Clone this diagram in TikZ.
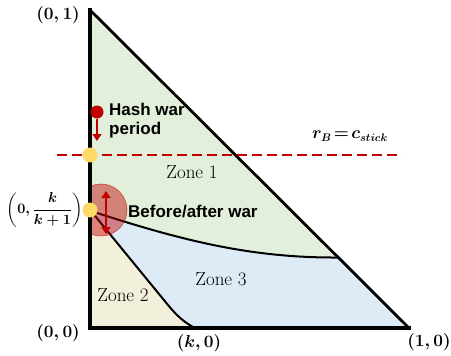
\documentclass[tikz,border=0pt]{standalone}
\usepackage{amsmath}
\usepackage{fontspec}
\newfontfamily\labelsans{Liberation Sans}
\usetikzlibrary{arrows.meta}
\definecolor{zoneA}{RGB}{226,239,218}
\definecolor{zoneB}{RGB}{242,239,218}
\definecolor{zoneC}{RGB}{221,235,247}
\definecolor{darkred}{RGB}{192,0,0}
\definecolor{dotyellow}{RGB}{255,217,102}
\tikzset{
  coordlabel/.style={font=\fontsize{16}{18}\selectfont, inner sep=0pt},
  fraclabel/.style={font=\fontsize{14.5}{17}\selectfont, inner sep=0pt},
  zonelabel/.style={font=\fontsize{19}{21}\selectfont, inner sep=0pt},
  sanslabel/.style={font=\labelsans\bfseries\fontsize{17}{19}\selectfont, inner sep=0pt, align=left},
  yellowdot/.style={circle, fill=dotyellow, minimum size=15pt, inner sep=0pt},
  boundary/.style={line width=2pt, black},
  axisline/.style={line width=3.2pt, black},
  redarrow/.style={darkred, line width=2.4pt, -{Triangle[length=7pt,width=9pt]}},
}
\begin{document}
\begin{tikzpicture}[x=1pt,y=-1pt]
\useasboundingbox (0,0) rectangle (451,356);
% key points
\coordinate (A) at (90,10);
\coordinate (O) at (90,328);
\coordinate (B) at (409,328);
\coordinate (P) at (91,211);
\coordinate (H) at (337.5,257.5);
\coordinate (K) at (195,328);
\coordinate (Kb) at (168,305);
% fills
\fill[zoneA] (A) -- (B) -- (O) -- cycle;
\fill[zoneC] (P) .. controls (180,240) and (250,258) .. (H) -- (B) -- (O) -- cycle;
\fill[zoneB] (P) -- (Kb) .. controls (177,316) and (185,323) .. (K) -- (O) -- cycle;
% zone boundaries
\draw[boundary] (P) .. controls (180,240) and (250,258) .. (H);
\draw[boundary] (P) -- (Kb) .. controls (177,316) and (185,323) .. (K);
% red highlight circle
\begin{scope}
\clip (90,150) rectangle (160,260);
\fill[darkred, fill opacity=0.45] (101,210) circle (26);
\draw[darkred, draw opacity=0.6, line width=0.6pt] (101,210) circle (26);
\end{scope}
% triangle outline
\draw[boundary, line width=2.8pt, line join=miter] (A) -- (B);
\draw[axisline, line cap=rect] (A) -- (O) -- (B);
% dashed threshold line
\coordinate (DL) at (57,155);
\coordinate (DR) at (402,155);
\draw[darkred, line width=2.8pt, dash pattern=on 10pt off 5pt] (DL) -- (DR);
% yellow dots
\node[yellowdot] (Y1) at (90,155) {};
\node[yellowdot] (Y2) at (90,210) {};
% hash war marker
\node[circle, fill=darkred, minimum size=13pt, inner sep=0pt] (HW) at (97,112) {};
\coordinate (HWend) at (97,141);
\draw[redarrow] (HW.south) -- (HWend);
\node[sanslabel, anchor=west] (HWtext) at (109,121) {Hash war\\period};
% before/after double arrow
\coordinate (BAtop) at (106,191);
\coordinate (BAbot) at (106,234);
\draw[darkred, line width=2.4pt, {Triangle[length=7pt,width=9pt]}-{Triangle[length=7pt,width=9pt]}] (BAtop) -- (BAbot);
\node[sanslabel, anchor=west] (BAtext) at (128,212) {Before/after war};
% zone labels
\node[zonelabel] (Z1) at (192,172) {Zone 1};
\node[zonelabel] (Z2) at (123,295) {Zone 2};
\node[zonelabel] (Z3) at (221,279) {Zone 3};
% coordinate labels
\node[coordlabel, anchor=east] (L01) at (80,15) {$\boldsymbol{(0,1)}$};
\node[coordlabel, anchor=east] (L00) at (80,333) {$\boldsymbol{(0,0)}$};
\node[coordlabel] (Lk0) at (199,343) {$\boldsymbol{(k,0)}$};
\node[coordlabel] (L10) at (429,342) {$\boldsymbol{(1,0)}$};
\node[fraclabel, anchor=east] (Lkk) at (83,210) {$\boldsymbol{\left(0,\dfrac{k}{k+1}\right)}$};
\node[coordlabel] (Lr) at (350,136) {$\boldsymbol{r_B\!=\!c_{stick}}$};
\end{tikzpicture}
\end{document}
